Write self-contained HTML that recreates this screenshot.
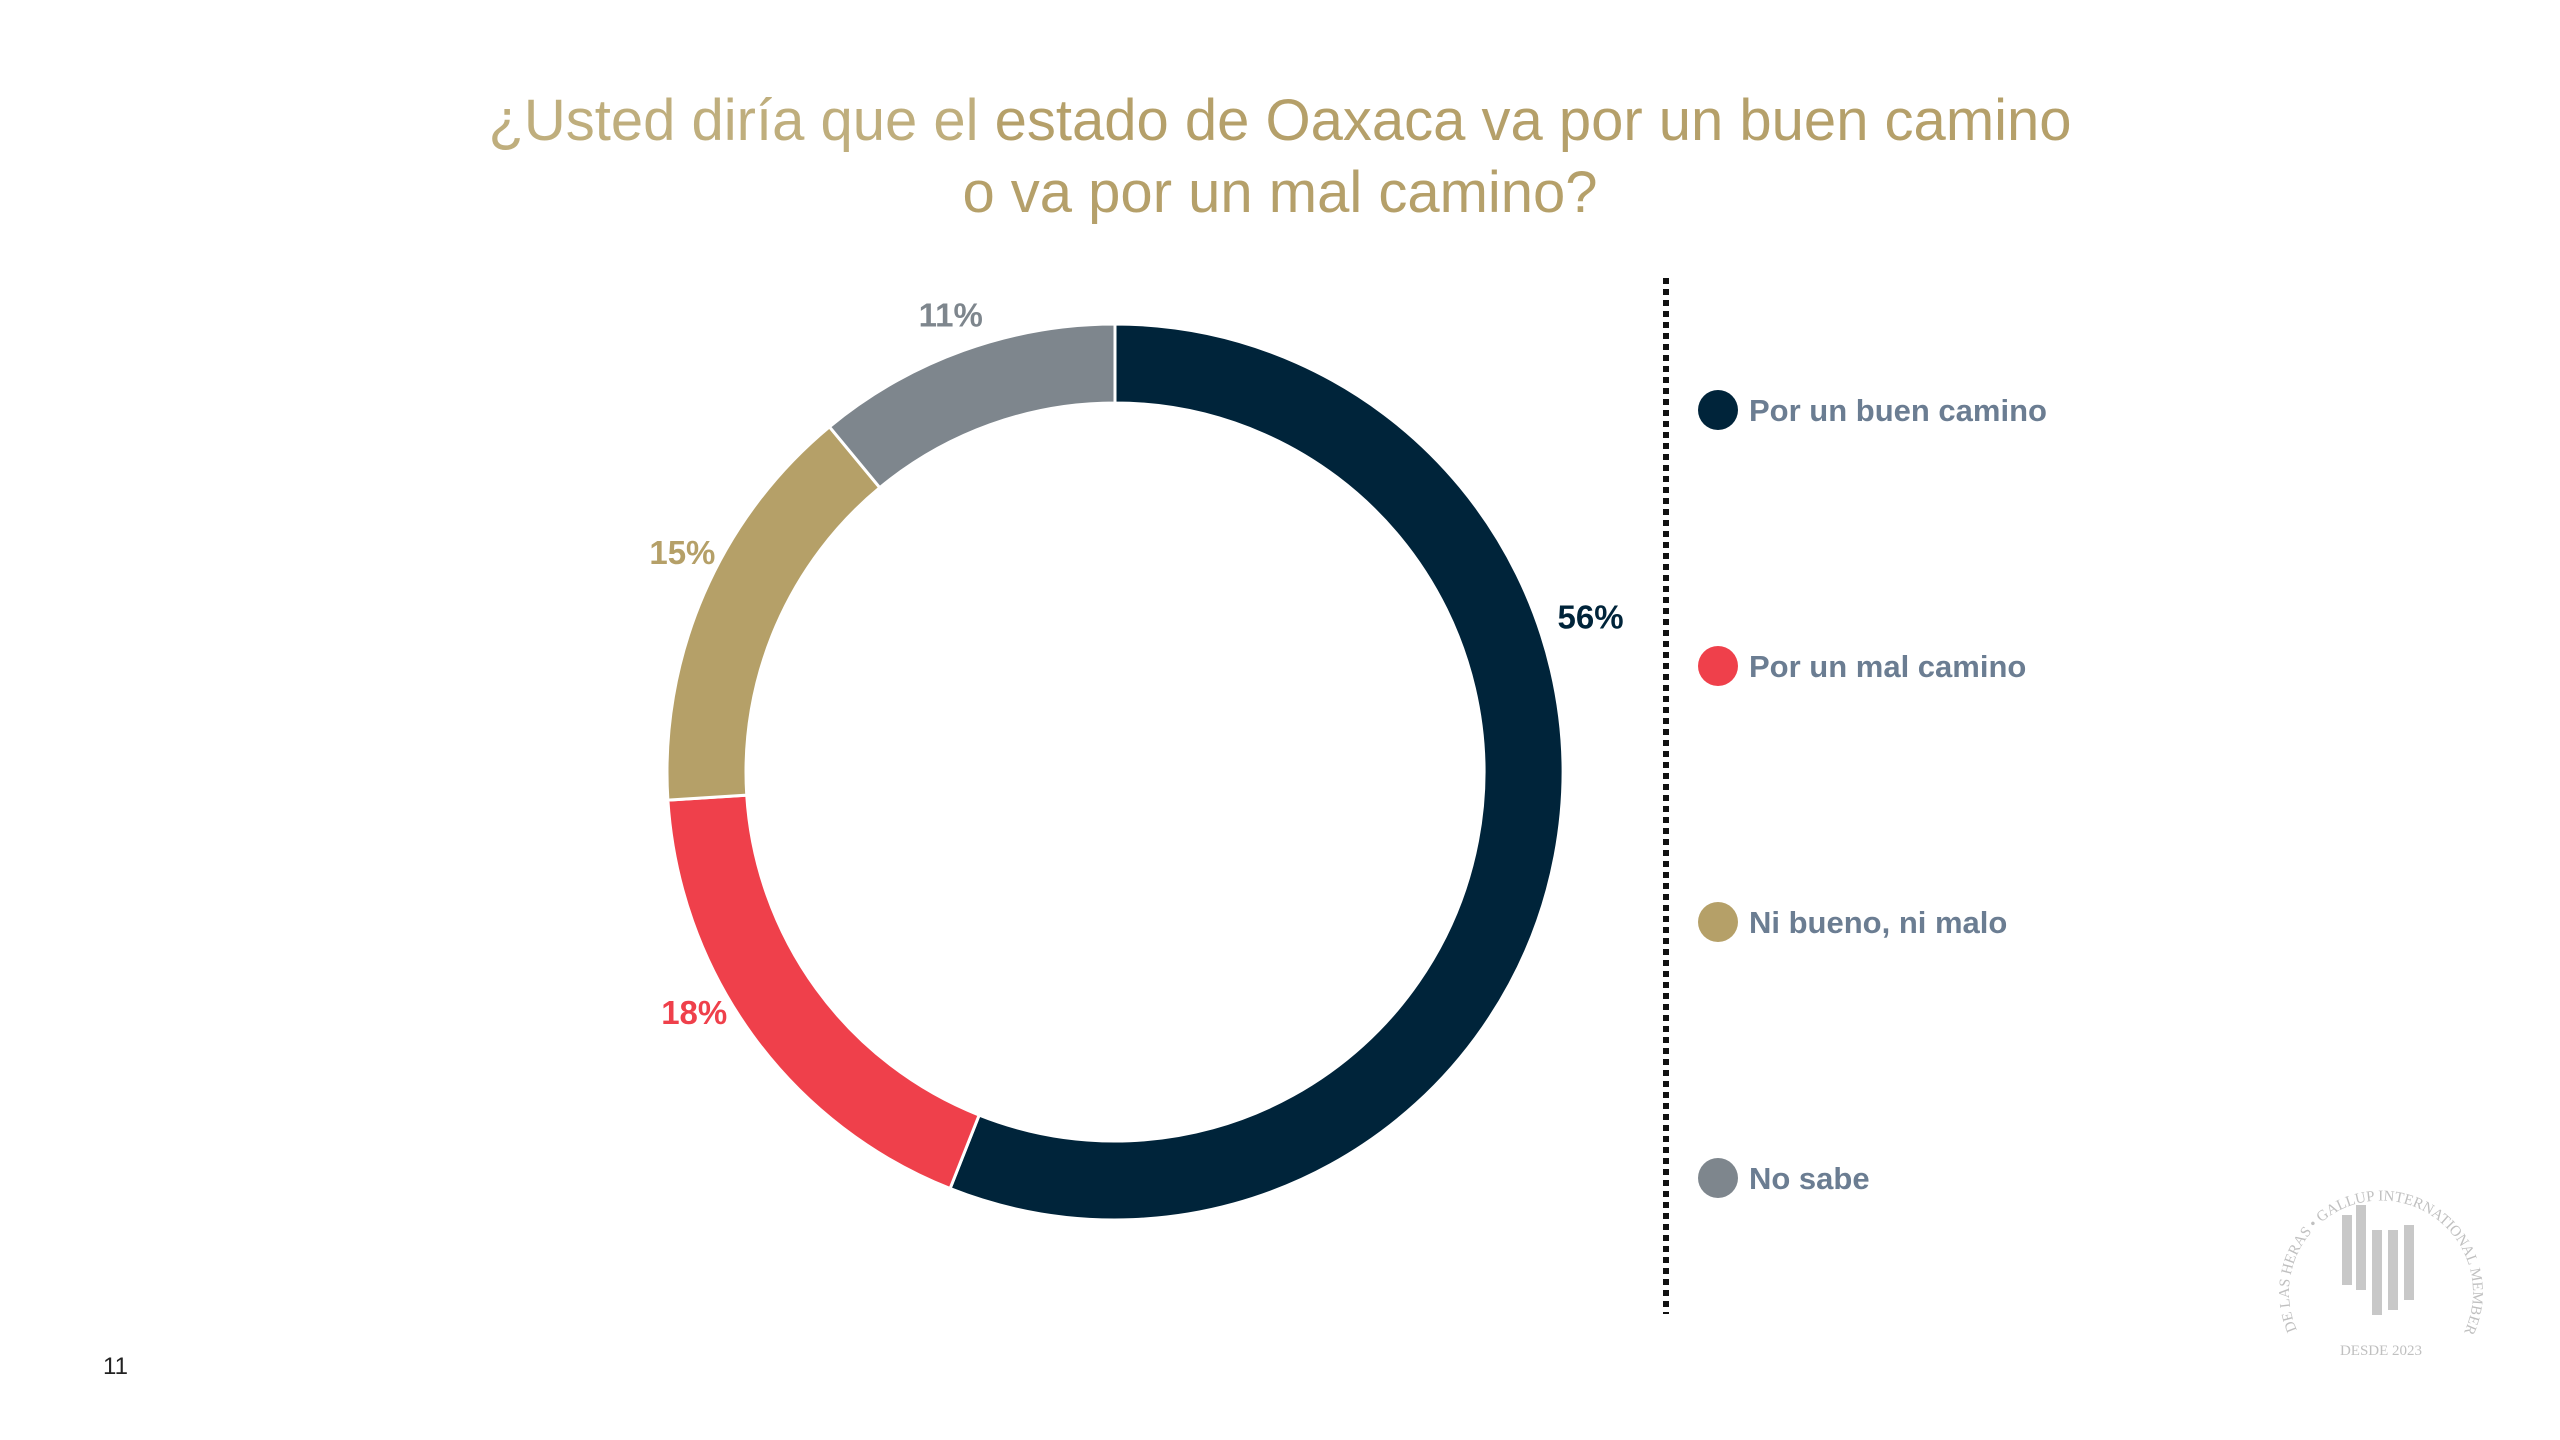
<!DOCTYPE html>
<html><head><meta charset="utf-8">
<style>
html,body{margin:0;padding:0;background:#fff;}
svg{display:block;font-family:"Liberation Sans",sans-serif;}
</style></head>
<body>
<svg id="chart" width="2560" height="1440" viewBox="0 0 2560 1440">
  <text x="1280" y="140" text-anchor="middle" font-size="58" fill="#b5a06a"><tspan fill="#bfae7d">¿Usted diría que el </tspan><tspan>estado de Oaxaca va por un buen camino</tspan></text>
  <text x="1280" y="212" text-anchor="middle" font-size="58" fill="#b5a06a">o va por un mal camino?</text>
  <g id="donut"></g>
  <line x1="1666" y1="278" x2="1666" y2="1314" stroke="#111" stroke-width="6" stroke-dasharray="6,5"/>
  <g id="legend"></g>
  <text x="103" y="1374" font-size="24" fill="#222">11</text>
  <g fill="#c8c8c8">
    <defs><path id="logoArc" d="M2297,1330 A92,92 0 1,1 2465,1330"/></defs>
    <text font-size="15" font-family="Liberation Serif,serif" fill="#c0c0c0"><textPath href="#logoArc">DE LAS HERAS • GALLUP INTERNATIONAL MEMBER</textPath></text>
    <text x="2381" y="1355" text-anchor="middle" font-size="15" font-family="Liberation Serif,serif" fill="#c0c0c0">DESDE 2023</text>
    <rect x="2342" y="1215" width="10" height="70"/>
    <rect x="2356" y="1205" width="10" height="85"/>
    <rect x="2372" y="1230" width="10" height="85"/>
    <rect x="2388" y="1230" width="10" height="80"/>
    <rect x="2404" y="1225" width="10" height="75"/>
  </g>
</svg>
<script>
const categories = ["Por un buen camino","Por un mal camino","Ni bueno, ni malo","No sabe"];
const values = [56, 18, 15, 11];
const labels = ["56%","18%","15%","11%"];
const colors = ["#00243a","#ef404b","#b5a068","#7e868d"];
const labelColors = ["#00243a","#ef404b","#b5a068","#7e868d"];

const NS = "http://www.w3.org/2000/svg";
const cx = 1115, cy = 772, R = 448, r = 369;
const total = values.reduce((a,b)=>a+b,0);
function pt(rad, ang){ return [cx + rad*Math.sin(ang), cy - rad*Math.cos(ang)]; }
const donut = document.getElementById('donut');
let a0 = 0;
values.forEach((v,i)=>{
  const a1 = a0 + v/total*2*Math.PI;
  const large = (a1-a0) > Math.PI ? 1 : 0;
  const [x0,y0]=pt(R,a0),[x1,y1]=pt(R,a1),[x2,y2]=pt(r,a1),[x3,y3]=pt(r,a0);
  const p = document.createElementNS(NS,'path');
  p.setAttribute('d',`M${x0},${y0} A${R},${R} 0 ${large} 1 ${x1},${y1} L${x2},${y2} A${r},${r} 0 ${large} 0 ${x3},${y3} Z`);
  p.setAttribute('fill',colors[i]);
  p.setAttribute('stroke','#fff');
  p.setAttribute('stroke-width','3');
  
  
  donut.appendChild(p);
  const half = (a1-a0)/2;
  let la, LR;
  if (half > 0.2*Math.PI*2) { la = a0 + 0.2*Math.PI*2; LR = 500; }
  else { la = a0 + half + Math.max(0, (half-0.35)*0.5); LR = 485; }
  const [lx,ly] = pt(LR, la);
  const t = document.createElementNS(NS,'text');
  t.setAttribute('x',lx); t.setAttribute('y',ly+11);
  t.setAttribute('text-anchor','middle');
  t.setAttribute('font-size','33'); t.setAttribute('font-weight','bold');
  t.setAttribute('fill',labelColors[i]);
  t.textContent = labels[i];
  
  
  donut.appendChild(t);
  a0 = a1;
});
const legend = document.getElementById('legend');
categories.forEach((c,i)=>{
  const y = 410 + i*256;
  const g = document.createElementNS(NS,'g');
  
  
  const ci = document.createElementNS(NS,'circle');
  ci.setAttribute('cx',1718); ci.setAttribute('cy',y); ci.setAttribute('r',20);
  ci.setAttribute('fill',colors[i]);
  
  
  const t = document.createElementNS(NS,'text');
  t.setAttribute('x',1749); t.setAttribute('y',y+11);
  t.setAttribute('font-size','31'); t.setAttribute('font-weight','bold');
  t.setAttribute('fill','#6b7d92');
  t.textContent = c;
  
  
  g.appendChild(ci); g.appendChild(t);
  legend.appendChild(g);
});
</script>
</body></html>
